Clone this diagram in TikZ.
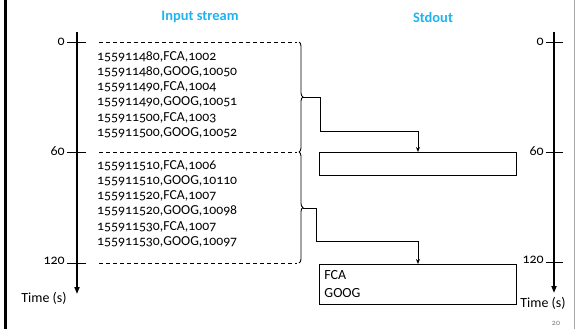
\documentclass[tikz,border=0pt]{standalone}
\usepackage{fontspec}
\setmainfont{Carlito}[Numbers=OldStyle]
\usetikzlibrary{arrows.meta,decorations.pathreplacing}
\definecolor{titleblue}{HTML}{1FB4F0}
\tikzset{
  axis/.style={line width=1.6bp,-{Triangle[length=7bp,width=5bp]}},
  tick/.style={line width=1bp},
  ticklabel/.style={anchor=east,inner sep=1bp,font=\fontsize{14}{16}\selectfont},
  sep/.style={dashed,line width=0.8bp,dash pattern=on 4bp off 3bp},
  brk/.style={line width=0.9bp,decorate,decoration={brace,amplitude=4bp}},
  conn/.style={line width=0.9bp,-{Stealth[length=5bp,width=4bp]}},
  outbox/.style={draw,line width=0.9bp,minimum width=197bp,anchor=north west,inner sep=0pt},
  title/.style={font=\fontsize{14.5}{16}\selectfont\bfseries,text=titleblue},
  datatext/.style={anchor=north west,align=left,inner sep=0pt,font=\fontsize{13.8}{15.3}\selectfont},
  axlabel/.style={font=\fontsize{14}{16}\selectfont,inner sep=0pt}
}
\begin{document}
\begin{tikzpicture}[x=1bp,y=-1bp]
\useasboundingbox (0,0) rectangle (576,329);
\fill (4,0) rectangle (7,329);
\draw[gray!70,line width=0.8bp] (574.5,0) -- (574.5,329);
% titles
\node[title] (tin) at (200,17) {Input stream};
\node[title] (tout) at (433,17) {Stdout};
% left axis
\coordinate (la0) at (77,32);
\coordinate (la1) at (77,294);
\draw[axis] (la0) -- (la1);
\draw[tick] (67,42) -- (86,42);
\draw[tick] (67,152) -- (86,152);
\draw[tick] (67,263) -- (86,263);
\node[ticklabel] (l0) at (66,42) {0};
\node[ticklabel] (l60) at (66,151) {60};
\node[ticklabel] (l120) at (66,261) {120};
\node[axlabel] (ltime) at (44,298) {Time (s)};
% right axis
\coordinate (ra0) at (554,32);
\coordinate (ra1) at (554,293);
\draw[axis] (ra0) -- (ra1);
\draw[tick] (546,42) -- (563,42);
\draw[tick] (546,152) -- (563,152);
\draw[tick] (546,262) -- (563,262);
\node[ticklabel] (r0) at (545,42) {0};
\node[ticklabel] (r60) at (545,151) {60};
\node[ticklabel] (r120) at (545,260) {120};
\node[axlabel] (rtime) at (543,303) {Time (s)};
% separators
\draw[sep] (99,42) -- (297,42);
\draw[sep] (99,152) -- (297,152);
\draw[sep] (99,263) -- (297,263);
% data
\node[datatext] (d1) at (97,51) {155911480,FCA,1002\\155911480,GOOG,10050\\155911490,FCA,1004\\155911490,GOOG,10051\\155911500,FCA,1003\\155911500,GOOG,10052};
\node[datatext] (d2) at (97,160) {155911510,FCA,1006\\155911510,GOOG,10110\\155911520,FCA,1007\\155911520,GOOG,10098\\155911530,FCA,1007\\155911530,GOOG,10097};
% braces
\draw[brk] (299,42) -- (299,152);
\draw[brk] (299,152) -- (299,263);
\coordinate (b1) at (303,97);
\coordinate (b2) at (303,208);
% output boxes
\node[outbox,minimum height=23bp] (box1) at (319,152) {};
\node[outbox,minimum height=40bp,align=left,text width=187bp,inner xsep=5bp,font=\fontsize{14}{18}\selectfont] (box2) at (319,264) {FCA\\GOOG};
% connectors
\draw[conn] (b1) -- (320,97) -- (320,131) -- (box1.north |- 0,131) -- (box1.north);
\draw[conn] (b2) -- (316,208) -- (316,241) -- (box2.north |- 0,241) -- (box2.north);
% page number
\node[font=\fontsize{8}{9}\selectfont,text=gray] (pg) at (556,323) {20};
\end{tikzpicture}
\end{document}
